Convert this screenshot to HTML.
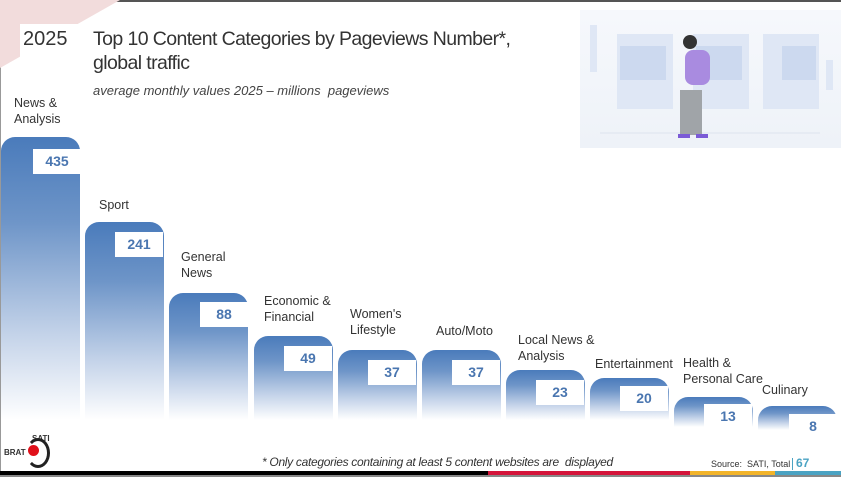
<!DOCTYPE html>
<html><head><meta charset="utf-8"><style>
*{margin:0;padding:0;box-sizing:border-box}
body{width:841px;height:477px;position:relative;overflow:hidden;background:#fff;font-family:"Liberation Sans","DejaVu Sans",sans-serif;color:#333}
.abs{position:absolute}
.bar{position:absolute;width:79px;border-radius:14px 14px 0 0;background:linear-gradient(to bottom,#4a7bbb 0%,#6e95c8 30%,#c4d3e9 70%,#fff 100%)}
.box{position:absolute;background:#fff;width:48px;height:25px;color:#4a76b0;font-weight:bold;font-size:14px;text-align:center;line-height:25px}
.lab{position:absolute;font-size:12.5px;line-height:16px;color:#333}
</style></head><body>
<div class="abs" style="left:0;top:0;width:841px;height:2px;background:#555"></div>
<div class="abs" style="left:0;top:0;width:1px;height:477px;background:#999"></div>
<svg class="abs" style="left:0;top:0" width="130" height="70"><polygon points="0,0 120,0 0,68" fill="#f2dcdc"/></svg>
<div class="abs" style="left:20px;top:24px;width:60px;height:46px;background:#fff"></div>
<div class="abs" style="left:23px;top:28px;font-size:20px;color:#333">2025</div>
<div class="abs" style="left:93px;top:27px;font-size:19.5px;line-height:24px;color:#333;letter-spacing:-0.6px">Top 10 Content Categories by Pageviews Number*,<br>global traffic</div>
<div class="abs" style="left:93px;top:83px;font-size:13px;font-style:italic;color:#444">average monthly values 2025 – millions&nbsp; pageviews</div>
<div class="abs" style="left:580px;top:10px;width:261px;height:138px;background:linear-gradient(#f6f8fc,#eef2f8)">
<svg width="261" height="138"><g fill="#dfe7f5"><rect x="10" y="15" width="7" height="47"/><rect x="37" y="24" width="56" height="75"/><rect x="113" y="24" width="56" height="75"/><rect x="183" y="24" width="56" height="75"/><rect x="246" y="50" width="7" height="30"/></g>
<rect x="40" y="36" width="46" height="34" fill="#ccd9ef"/><rect x="116" y="36" width="46" height="34" fill="#ccd9ef"/><rect x="202" y="36" width="34" height="34" fill="#ccd9ef"/>
<line x1="20" y1="123" x2="240" y2="123" stroke="#dde3ee"/>
<rect x="105" y="40" width="25" height="35" rx="8" fill="#a98be0"/><circle cx="110" cy="32" r="7" fill="#333"/><rect x="100" y="80" width="22" height="45" fill="#a0a4a8"/><rect x="98" y="124" width="12" height="4" fill="#7b5bd6"/><rect x="116" y="124" width="12" height="4" fill="#7b5bd6"/></svg></div>

<div class="bar" style="left:1px;top:137px;height:283px"></div><div class="box" style="left:33px;top:149px">435</div>
<div class="bar" style="left:85px;top:222px;height:198px"></div><div class="box" style="left:115px;top:232px">241</div>
<div class="bar" style="left:169px;top:293px;height:127px"></div><div class="box" style="left:200px;top:302px">88</div>
<div class="bar" style="left:254px;top:336px;height:84px"></div><div class="box" style="left:284px;top:346px">49</div>
<div class="bar" style="left:338px;top:350px;height:70px"></div><div class="box" style="left:368px;top:360px">37</div>
<div class="bar" style="left:422px;top:350px;height:70px"></div><div class="box" style="left:452px;top:360px">37</div>
<div class="bar" style="left:506px;top:370px;height:50px"></div><div class="box" style="left:536px;top:380px">23</div>
<div class="bar" style="left:590px;top:378px;height:42px"></div><div class="box" style="left:620px;top:386px">20</div>
<div class="bar" style="left:674px;top:397px;height:30px"></div><div class="box" style="left:704px;top:404px">13</div>
<div class="bar" style="left:758px;top:406px;height:24px"></div><div class="box" style="left:789px;top:414px">8</div>

<div class="lab" style="left:14px;top:95px">News &amp;<br>Analysis</div>
<div class="lab" style="left:99px;top:197px">Sport</div>
<div class="lab" style="left:181px;top:249px">General<br>News</div>
<div class="lab" style="left:264px;top:293px">Economic &amp;<br>Financial</div>
<div class="lab" style="left:350px;top:306px">Women's<br>Lifestyle</div>
<div class="lab" style="left:436px;top:323px">Auto/Moto</div>
<div class="lab" style="left:518px;top:332px">Local News &amp;<br>Analysis</div>
<div class="lab" style="left:595px;top:356px">Entertainment</div>
<div class="lab" style="left:683px;top:355px">Health &amp;<br>Personal Care</div>
<div class="lab" style="left:762px;top:382px">Culinary</div>

<div class="abs" style="left:4px;top:434px;font-size:8px;font-weight:bold;color:#333"><span style="position:absolute;left:28px;top:0">SATI</span><span style="position:absolute;left:0;top:14px">BRAT</span>
<div style="position:absolute;left:22px;top:4px;width:24px;height:30px;border:3px solid #222;border-left-color:transparent;border-radius:50%"></div>
<div style="position:absolute;left:24px;top:11px;width:11px;height:11px;background:#e0101a;border-radius:50%"></div></div>
<div class="abs" style="left:262px;top:455px;font-size:12px;font-style:italic;color:#333;letter-spacing:-0.3px">* Only categories containing at least 5 content websites are&nbsp; displayed</div>
<div class="abs" style="left:711px;top:459px;font-size:9px;color:#333">Source:&nbsp; SATI, Total</div>
<div class="abs" style="left:792px;top:458px;width:1px;height:12px;background:#4ba3c3"></div>
<div class="abs" style="left:796px;top:456px;font-size:12px;font-weight:bold;color:#4ba3c3">67</div>
<div class="abs" style="left:0;top:471px;width:488px;height:4px;background:#000"></div>
<div class="abs" style="left:488px;top:471px;width:202px;height:4px;background:#d4143a"></div>
<div class="abs" style="left:690px;top:471px;width:85px;height:4px;background:#f2b42a"></div>
<div class="abs" style="left:775px;top:471px;width:66px;height:4px;background:#4ba3c3"></div>
<div class="abs" style="left:0;top:475px;width:841px;height:2px;background:#888"></div>
</body></html>
